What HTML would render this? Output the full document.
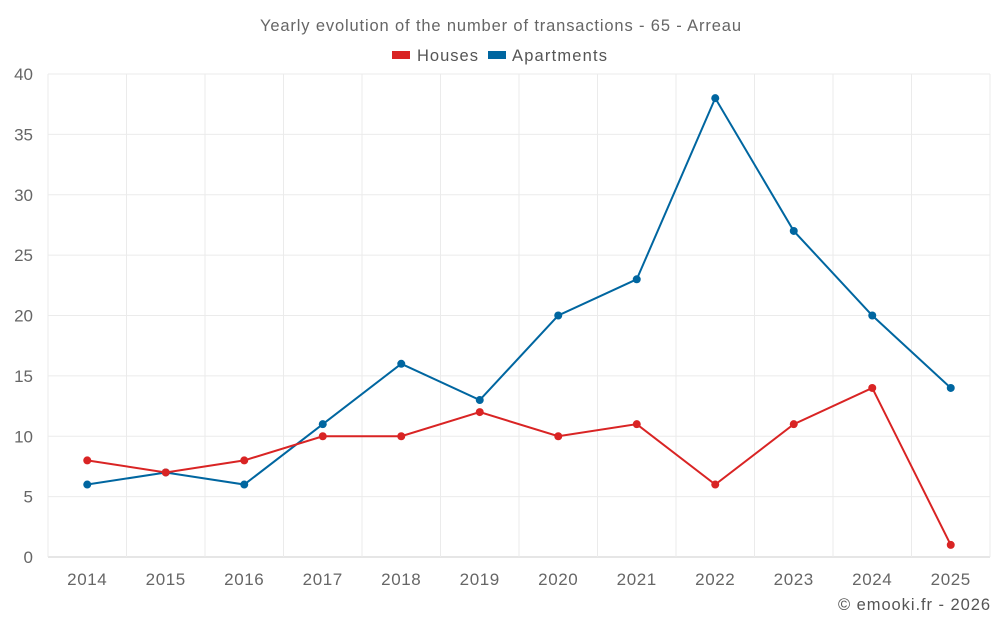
<!DOCTYPE html>
<html><head><meta charset="utf-8"><style>
body{margin:0;background:#fff;font-family:"Liberation Sans",sans-serif;}
svg text{font-family:"Liberation Sans",sans-serif;}
</style></head><body>
<svg id="chart" width="1000" height="625">
<text x="260" y="31" textLength="481" lengthAdjust="spacing" font-size="16.5" fill="#666">Yearly evolution of the number of transactions - 65 - Arreau</text>
<g>
<g><rect x="392" y="51" width="18" height="8" fill="#d92424"/><text x="417" y="61" textLength="61" lengthAdjust="spacing" font-size="16.5" fill="#555">Houses</text></g>
<g><rect x="488" y="51" width="18" height="8" fill="#0066a0"/><text x="512" y="61" textLength="95" lengthAdjust="spacing" font-size="16.5" fill="#555">Apartments</text></g>
</g>
<g id="grid"></g><g id="axes"></g><g id="series"></g>
<text x="838" y="610" textLength="152" lengthAdjust="spacing" font-size="16.5" fill="#555">© emooki.fr - 2026</text>
</svg>
<script>
const years=["2014","2015","2016","2017","2018","2019","2020","2021","2022","2023","2024","2025"];
const houses=[8,7,8,10,10,12,10,11,6,11,14,1];
const apartments=[6,7,6,11,16,13,20,23,38,27,20,14];
const yTicks=[0,5,10,15,20,25,30,35,40];
const NS="http://www.w3.org/2000/svg";
const L=48,R=990,T=74,B=557,yMax=40;
const bw=(R-L)/years.length;
const x=i=>L+bw*(i+0.5);
const y=v=>B-(v/yMax)*(B-T);
function mk(tag,attrs,parent){const e=document.createElementNS(NS,tag);for(const k in attrs)e.setAttribute(k,attrs[k]);parent.appendChild(e);return e;}
const grid=document.getElementById('grid'),axes=document.getElementById('axes'),ser=document.getElementById('series');
yTicks.forEach(t=>{
 const l=mk('line',{x1:L,x2:R,y1:y(t),y2:y(t),stroke:t===0?'#ccc':'#ebebeb'},grid);
 
 
 const tx=mk('text',{x:33,y:y(t)+6,'text-anchor':'end','font-size':17,fill:'#666'},axes);
 tx.textContent=t;
 
 
});
for(let i=0;i<=years.length;i++){
 const l=mk('line',{x1:L+bw*i,x2:L+bw*i,y1:T,y2:B,stroke:'#ebebeb'},grid);
 
 
}
years.forEach((yr,i)=>{
 const tx=mk('text',{x:x(i),y:585,'text-anchor':'middle','font-size':17,'letter-spacing':0.6,fill:'#666'},axes);
 tx.textContent=yr;
 
 
});
function draw(vals,color,name){
 const p=mk('polyline',{points:vals.map((v,i)=>x(i)+','+y(v)).join(' '),fill:'none',stroke:color,'stroke-width':2},ser);
 
 
 vals.forEach((v,i)=>{
  const c=mk('circle',{cx:x(i),cy:y(v),r:4,fill:color},ser);
  
  
 });
}
draw(apartments,'#0066a0','apartments');
draw(houses,'#d92424','houses');
</script>
</body></html>
